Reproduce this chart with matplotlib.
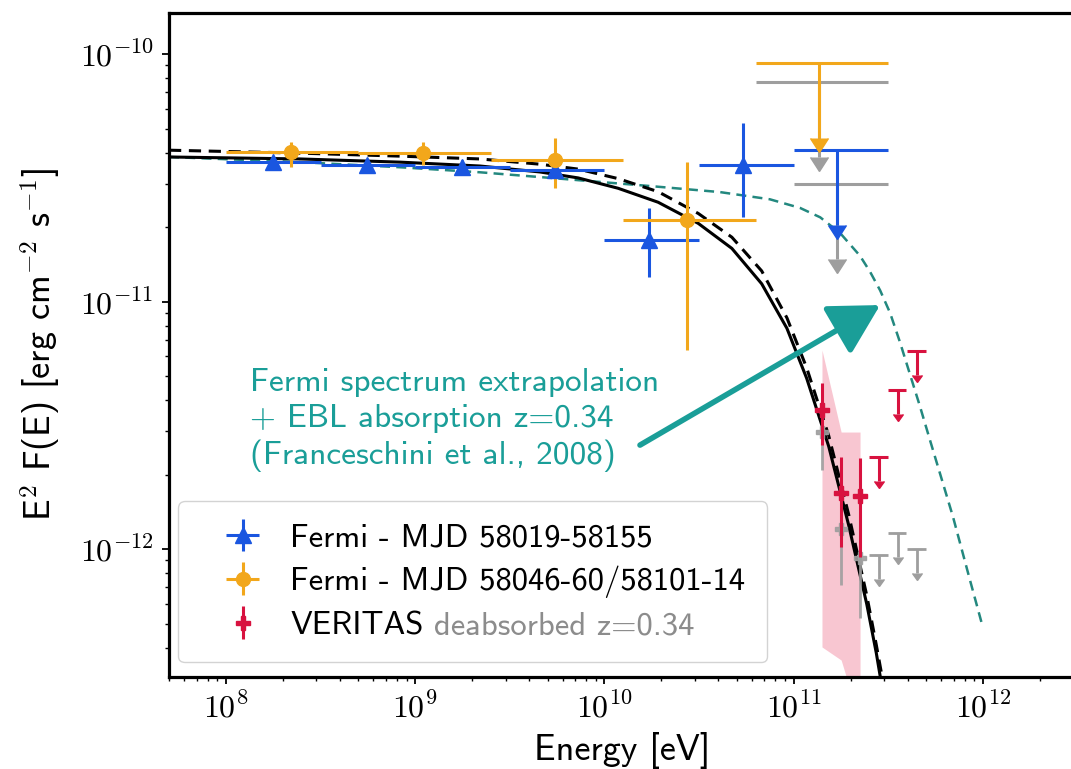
import numpy as np
import matplotlib
matplotlib.use("Agg")
import matplotlib.pyplot as plt
from matplotlib.ticker import FixedLocator, FixedFormatter, LogLocator, NullFormatter

plt.rcParams['mathtext.fontset'] = 'cm'
plt.rcParams['axes.unicode_minus'] = False
sans = ['cmss10', 'DejaVu Sans']

# Fermi, MJD 58019-58155 (half-decade bins)
f1_edges = [1.0e8, 3.16e8, 1.0e9, 3.16e9, 1.0e10, 3.16e10, 1.0e11]
f1_x = [1.77e8, 5.56e8, 1.77e9, 5.47e9, 1.72e10, 5.4e10]
f1_y = [3.66e-11, 3.56e-11, 3.49e-11, 3.40e-11, 1.77e-11, 3.56e-11]
f1_ylo = [3.45e-11, 3.36e-11, 3.28e-11, 3.15e-11, 1.26e-11, 2.19e-11]
f1_yhi = [3.88e-11, 3.77e-11, 3.72e-11, 3.65e-11, 2.39e-11, 5.26e-11]
f1_ul_x = [1.7e11]
f1_ul_edges = [1.0e11, 3.16e11]
f1_ul_y = [4.09e-11]
f1_ul_abs = [2.98e-11]

# Fermi, MJD 58046-60/58101-14 (0.7 decade bins)
f2_edges = [1.0e8, 5.0e8, 2.5e9, 1.26e10, 6.3e10]
f2_x = [2.2e8, 1.1e9, 5.47e9, 2.73e10]
f2_y = [4.02e-11, 3.98e-11, 3.73e-11, 2.13e-11]
f2_ylo = [3.49e-11, 3.56e-11, 2.88e-11, 6.37e-12]
f2_yhi = [4.41e-11, 4.41e-11, 4.58e-11, 3.66e-11]
f2_ul_x = [1.36e11]
f2_ul_edges = [6.3e10, 3.16e11]
f2_ul_y = [9.2e-11]
f2_ul_abs = [7.7e-11]

# VERITAS deabsorbed (red) and observed (grey)
ver_x = [1.41e11, 1.78e11, 2.24e11]
ver_y = [3.65e-12, 1.68e-12, 1.64e-12]
ver_ylo = [2.63e-12, 1.02e-12, 9.3e-13]
ver_yhi = [4.69e-12, 2.35e-12, 2.33e-12]
ver_ul_x = [2.82e11, 3.55e11, 4.48e11]
ver_ul_y = [2.35e-12, 4.38e-12, 6.31e-12]
obs_y = [2.97e-12, 1.21e-12, 9.2e-13]
obs_ylo = [2.08e-12, 7.16e-13, 5.26e-13]
obs_yhi = [3.48e-12, 1.51e-12, 1.09e-12]
obs_ul_y = [9.46e-13, 1.16e-12, 1.0e-12]

band_x = [1.41e11, 1.78e11, 2.24e11]
band_hi = [6.37e-12, 2.97e-12, 2.97e-12]
band_lo = [4.02e-13, 3.56e-13, 2.0e-13]

# model curves
fit_x = [5.0e7, 2.46e8, 8.3e8, 2.2e9, 4.56e9, 7.26e9, 1.18e10, 1.92e10, 3.13e10, 4.71e10,
         6.77e10, 9.2e10, 1.17e11, 1.53e11, 1.95e11, 2.43e11, 2.73e11, 3.02e11]
fit_y = [3.84e-11, 3.77e-11, 3.66e-11, 3.53e-11, 3.34e-11, 3.16e-11, 2.87e-11, 2.52e-11, 2.07e-11, 1.64e-11,
         1.18e-11, 7.8e-12, 4.9e-12, 2.6e-12, 1.25e-12, 6.0e-13, 3.8e-13, 2.4e-13]
fit2_x = [5.0e7, 2.46e8, 8.3e8, 2.2e9, 4.56e9, 7.26e9, 1.18e10, 1.92e10, 3.13e10, 4.71e10,
          6.77e10, 9.2e10, 1.17e11, 1.53e11, 1.95e11, 2.43e11, 2.73e11, 3.1e11]
fit2_y = [4.09e-11, 3.98e-11, 3.87e-11, 3.77e-11, 3.59e-11, 3.43e-11, 3.14e-11, 2.78e-11, 2.27e-11, 1.82e-11,
          1.33e-11, 8.6e-12, 5.4e-12, 2.87e-12, 1.38e-12, 6.5e-13, 4.1e-13, 2.4e-13]
ebl_x = [5.0e7, 2.46e8, 8.3e8, 2.2e9, 5.47e9, 1.74e10, 4.07e10, 7.48e10, 1.08e11, 1.38e11, 1.76e11,
         2.24e11, 2.53e11, 2.86e11, 3.23e11, 3.64e11, 4.11e11, 4.64e11, 5.25e11, 6.94e11, 8.53e11, 1.0e12]
ebl_y = [3.84e-11, 3.66e-11, 3.49e-11, 3.33e-11, 3.15e-11, 2.93e-11, 2.77e-11, 2.59e-11, 2.39e-11, 2.19e-11,
         1.89e-11, 1.53e-11, 1.32e-11, 1.11e-11, 8.99e-12, 6.86e-12, 5.09e-12, 3.78e-12, 2.75e-12, 1.35e-12,
         7.5e-13, 4.8e-13]

blue = '#1a56e0'
orange = '#f2a71b'
red = '#d8123f'
grey = '#9e9e9e'
teal = '#1a9e98'
teal_line = '#23887f'

fig = plt.figure(figsize=(10.71, 7.69), dpi=100)
ax = fig.add_axes([169/1071, 1-677/769, (1076-169)/1071, (677-13)/769])
ax.set_xscale('log')
ax.set_yscale('log')


def xerr_from(xs, edges):
    lo = [x - edges[i] for i, x in enumerate(xs)]
    hi = [edges[i+1] - x for i, x in enumerate(xs)]
    return [lo, hi]


def yerr_from(ys, lo, hi):
    return [[y - l for y, l in zip(ys, lo)], [h - y for y, h in zip(ys, hi)]]


def upper_limits(xs, ys, xerr, frac, c, lw, cap, z):
    ax.errorbar(xs, ys, xerr=xerr, fmt='none', ecolor=c, elinewidth=lw, capsize=0, zorder=z)
    ax.errorbar(xs, ys, yerr=[frac*v for v in ys], uplims=True, fmt='none', color=c,
                ecolor=c, elinewidth=lw, capsize=cap, zorder=z)


ax.fill_between(band_x, band_lo, band_hi, color='#f7b8c6', alpha=0.8, lw=0, zorder=1)

ax.plot(ebl_x, ebl_y, ls=(0, (4, 2.5)), color=teal_line, lw=1.8, zorder=2)
ax.plot(fit_x, fit_y, color='black', lw=2.2, zorder=3)
ax.plot(fit2_x, fit2_y, ls=(0, (4, 2.5)), color='black', lw=2.2, zorder=3)

ulfrac = 0.5
# absorbed grey upper limits (Fermi)
upper_limits(f2_ul_x, f2_ul_abs, xerr_from(f2_ul_x, f2_ul_edges), ulfrac, grey, 2.2, 6.5, 4)
upper_limits(f1_ul_x, f1_ul_abs, xerr_from(f1_ul_x, f1_ul_edges), ulfrac, grey, 2.2, 6.5, 4)

h1 = ax.errorbar(f1_x, f1_y, xerr=xerr_from(f1_x, f1_edges), yerr=yerr_from(f1_y, f1_ylo, f1_yhi),
                 fmt='^', color=blue, ms=11, elinewidth=2.2, zorder=5)
upper_limits(f1_ul_x, f1_ul_y, xerr_from(f1_ul_x, f1_ul_edges), ulfrac, blue, 2.2, 6.5, 5)

h2 = ax.errorbar(f2_x, f2_y, xerr=xerr_from(f2_x, f2_edges), yerr=yerr_from(f2_y, f2_ylo, f2_yhi),
                 fmt='o', color=orange, ms=10, elinewidth=2.2, zorder=5)
upper_limits(f2_ul_x, f2_ul_y, xerr_from(f2_ul_x, f2_ul_edges), ulfrac, orange, 2.2, 6.5, 5)

# VERITAS
vfrac = 0.2
ax.errorbar(ver_x, obs_y, yerr=yerr_from(obs_y, obs_ylo, obs_yhi), fmt='P', color=grey,
            ms=8, elinewidth=2, alpha=0.9, zorder=4)
upper_limits(ver_ul_x, obs_ul_y, [0.11*v for v in ver_ul_x], vfrac, grey, 2, 3.5, 4)
h3 = ax.errorbar(ver_x, ver_y, yerr=yerr_from(ver_y, ver_ylo, ver_yhi), fmt='P', color=red,
                 ms=10, elinewidth=2.2, zorder=6)
upper_limits(ver_ul_x, ver_ul_y, [0.11*v for v in ver_ul_x], vfrac, red, 2.2, 3.5, 6)

ax.set_xlim(5e7, 3.1e12)
ax.set_ylim(3.04e-13, 1.466e-10)

# annotation
ax.text(1.34e8, 3.32e-12, 'Fermi spectrum extrapolation\n+ EBL absorption z=0.34\n(Franceschini et al., 2008)',
        color=teal, fontsize=24, family=sans, ha='left', va='center', linespacing=1.3, zorder=7)
ax.annotate('', xy=(2.86e11, 9.68e-12), xytext=(1.54e10, 2.63e-12),
            arrowprops=dict(arrowstyle='-|>,head_length=0.9,head_width=0.5', color=teal,
                            lw=4, mutation_scale=34, shrinkA=0, shrinkB=0), zorder=7)

# axes cosmetics
ax.xaxis.set_major_locator(FixedLocator([1e8, 1e9, 1e10, 1e11, 1e12]))
ax.xaxis.set_major_formatter(FixedFormatter([r'$10^{8}$', r'$10^{9}$', r'$10^{10}$', r'$10^{11}$', r'$10^{12}$']))
ax.yaxis.set_major_locator(FixedLocator([1e-12, 1e-11, 1e-10]))
ax.yaxis.set_major_formatter(FixedFormatter([r'$10^{-12}$', r'$10^{-11}$', r'$10^{-10}$']))
ax.xaxis.set_minor_locator(LogLocator(base=10, subs=np.arange(2, 10), numticks=20))
ax.yaxis.set_minor_locator(LogLocator(base=10, subs=np.arange(2, 10), numticks=20))
ax.xaxis.set_minor_formatter(NullFormatter())
ax.yaxis.set_minor_formatter(NullFormatter())
ax.tick_params(which='major', direction='out', length=5, width=1.3, labelsize=23, pad=6)
ax.tick_params(which='minor', direction='out', length=3, width=1)
for s in ax.spines.values():
    s.set_linewidth(2.3)

ax.set_xlabel('Energy [eV]', fontsize=26, family=sans, labelpad=6)
ax.set_ylabel(r'E$^{\mathsf{2}}$ F(E) [erg cm$^{\mathsf{-2}}$ s$^{\mathsf{-1}}$]', fontsize=26, family=sans,
              labelpad=12)

leg = ax.legend([h1, h2, h3], ['Fermi - MJD 58019-58155', 'Fermi - MJD 58046-60/58101-14', 'VERITAS'],
                loc='lower left', bbox_to_anchor=(0.01, 0.022), borderaxespad=0,
                prop={'family': sans, 'size': 23.5}, handlelength=2.6, handletextpad=0.15,
                borderpad=0.68, labelspacing=0.40, framealpha=0.85, edgecolor='#cccccc')
fig.canvas.draw()
vt = leg.get_texts()[2]
ax.annotate(' deabsorbed z=0.34', xy=(1, 0), xycoords=vt, va='bottom', ha='left',
            color='#8c8c8c', fontsize=23.5, family=sans, zorder=8)

fig.savefig('out.png', dpi=100)
